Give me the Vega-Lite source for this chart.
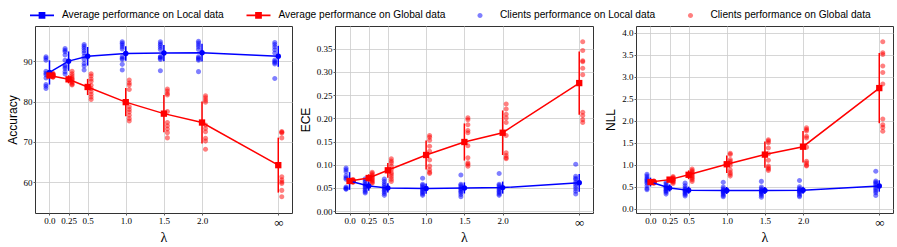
{
"$schema":"https://vega.github.io/schema/vega-lite/v6.json",
"background":"white",
"padding":{"left":5,"top":3,"right":2,"bottom":2},
"autosize":{"type":"pad"},
"bounds":"flush",
"spacing":43,
"datasets":{
"clients":[
{"m":"a","x":0,"s":"CL","v":91.1},{"m":"a","x":0,"s":"CL","v":90.7},{"m":"a","x":0,"s":"CL","v":90.2},{"m":"a","x":0,"s":"CL","v":87.5},{"m":"a","x":0,"s":"CL","v":87.0},{"m":"a","x":0,"s":"CL","v":86.6},{"m":"a","x":0,"s":"CL","v":85.8},{"m":"a","x":0,"s":"CL","v":84.2},{"m":"a","x":0,"s":"CL","v":83.8},{"m":"a","x":0,"s":"CL","v":83.2},
{"m":"a","x":0.25,"s":"CL","v":93.1},{"m":"a","x":0.25,"s":"CL","v":92.7},{"m":"a","x":0.25,"s":"CL","v":92.3},{"m":"a","x":0.25,"s":"CL","v":91.5},{"m":"a","x":0.25,"s":"CL","v":90.2},{"m":"a","x":0.25,"s":"CL","v":89.0},{"m":"a","x":0.25,"s":"CL","v":88.6},{"m":"a","x":0.25,"s":"CL","v":88.2},{"m":"a","x":0.25,"s":"CL","v":87.4},{"m":"a","x":0.25,"s":"CL","v":86.8},
{"m":"a","x":0.5,"s":"CL","v":94.1},{"m":"a","x":0.5,"s":"CL","v":93.7},{"m":"a","x":0.5,"s":"CL","v":93.2},{"m":"a","x":0.5,"s":"CL","v":92.6},{"m":"a","x":0.5,"s":"CL","v":92.0},{"m":"a","x":0.5,"s":"CL","v":91.2},{"m":"a","x":0.5,"s":"CL","v":90.4},{"m":"a","x":0.5,"s":"CL","v":89.4},{"m":"a","x":0.5,"s":"CL","v":88.8},{"m":"a","x":0.5,"s":"CL","v":87.8},
{"m":"a","x":1,"s":"CL","v":94.8},{"m":"a","x":1,"s":"CL","v":94.4},{"m":"a","x":1,"s":"CL","v":94.0},{"m":"a","x":1,"s":"CL","v":93.5},{"m":"a","x":1,"s":"CL","v":93.0},{"m":"a","x":1,"s":"CL","v":91.1},{"m":"a","x":1,"s":"CL","v":90.7},{"m":"a","x":1,"s":"CL","v":90.4},{"m":"a","x":1,"s":"CL","v":89.2},{"m":"a","x":1,"s":"CL","v":87.8},
{"m":"a","x":1.5,"s":"CL","v":94.8},{"m":"a","x":1.5,"s":"CL","v":94.3},{"m":"a","x":1.5,"s":"CL","v":93.9},{"m":"a","x":1.5,"s":"CL","v":93.4},{"m":"a","x":1.5,"s":"CL","v":92.9},{"m":"a","x":1.5,"s":"CL","v":91.0},{"m":"a","x":1.5,"s":"CL","v":91.1},{"m":"a","x":1.5,"s":"CL","v":90.7},{"m":"a","x":1.5,"s":"CL","v":90.4},{"m":"a","x":1.5,"s":"CL","v":87.6},
{"m":"a","x":2,"s":"CL","v":94.9},{"m":"a","x":2,"s":"CL","v":94.5},{"m":"a","x":2,"s":"CL","v":94.0},{"m":"a","x":2,"s":"CL","v":93.5},{"m":"a","x":2,"s":"CL","v":92.9},{"m":"a","x":2,"s":"CL","v":91.1},{"m":"a","x":2,"s":"CL","v":90.8},{"m":"a","x":2,"s":"CL","v":90.5},{"m":"a","x":2,"s":"CL","v":90.2},{"m":"a","x":2,"s":"CL","v":87.4},
{"m":"a","x":3,"s":"CL","v":94.6},{"m":"a","x":3,"s":"CL","v":94.1},{"m":"a","x":3,"s":"CL","v":93.5},{"m":"a","x":3,"s":"CL","v":92.8},{"m":"a","x":3,"s":"CL","v":92.0},{"m":"a","x":3,"s":"CL","v":90.3},{"m":"a","x":3,"s":"CL","v":89.9},{"m":"a","x":3,"s":"CL","v":89.6},{"m":"a","x":3,"s":"CL","v":89.3},{"m":"a","x":3,"s":"CL","v":85.7},
{"m":"a","x":0,"s":"CG","v":87.0},{"m":"a","x":0,"s":"CG","v":86.8},{"m":"a","x":0,"s":"CG","v":86.7},{"m":"a","x":0,"s":"CG","v":86.6},{"m":"a","x":0,"s":"CG","v":86.5},{"m":"a","x":0,"s":"CG","v":86.4},{"m":"a","x":0,"s":"CG","v":86.3},{"m":"a","x":0,"s":"CG","v":86.2},{"m":"a","x":0,"s":"CG","v":86.1},{"m":"a","x":0,"s":"CG","v":86.0},
{"m":"a","x":0.25,"s":"CG","v":87.5},{"m":"a","x":0.25,"s":"CG","v":86.9},{"m":"a","x":0.25,"s":"CG","v":86.4},{"m":"a","x":0.25,"s":"CG","v":85.9},{"m":"a","x":0.25,"s":"CG","v":85.6},{"m":"a","x":0.25,"s":"CG","v":85.3},{"m":"a","x":0.25,"s":"CG","v":84.9},{"m":"a","x":0.25,"s":"CG","v":84.6},{"m":"a","x":0.25,"s":"CG","v":84.3},{"m":"a","x":0.25,"s":"CG","v":84.1},
{"m":"a","x":0.5,"s":"CG","v":86.9},{"m":"a","x":0.5,"s":"CG","v":86.3},{"m":"a","x":0.5,"s":"CG","v":85.6},{"m":"a","x":0.5,"s":"CG","v":85.0},{"m":"a","x":0.5,"s":"CG","v":84.0},{"m":"a","x":0.5,"s":"CG","v":83.2},{"m":"a","x":0.5,"s":"CG","v":82.5},{"m":"a","x":0.5,"s":"CG","v":81.8},{"m":"a","x":0.5,"s":"CG","v":81.1},{"m":"a","x":0.5,"s":"CG","v":80.5},
{"m":"a","x":1,"s":"CG","v":85.3},{"m":"a","x":1,"s":"CG","v":84.6},{"m":"a","x":1,"s":"CG","v":84.1},{"m":"a","x":1,"s":"CG","v":83.0},{"m":"a","x":1,"s":"CG","v":78.7},{"m":"a","x":1,"s":"CG","v":78.0},{"m":"a","x":1,"s":"CG","v":77.4},{"m":"a","x":1,"s":"CG","v":76.6},{"m":"a","x":1,"s":"CG","v":75.8},{"m":"a","x":1,"s":"CG","v":75.2},
{"m":"a","x":1.5,"s":"CG","v":83.1},{"m":"a","x":1.5,"s":"CG","v":82.6},{"m":"a","x":1.5,"s":"CG","v":82.0},{"m":"a","x":1.5,"s":"CG","v":81.6},{"m":"a","x":1.5,"s":"CG","v":77.5},{"m":"a","x":1.5,"s":"CG","v":74.8},{"m":"a","x":1.5,"s":"CG","v":74.0},{"m":"a","x":1.5,"s":"CG","v":73.2},{"m":"a","x":1.5,"s":"CG","v":72.3},{"m":"a","x":1.5,"s":"CG","v":71.0},
{"m":"a","x":2,"s":"CG","v":81.4},{"m":"a","x":2,"s":"CG","v":80.9},{"m":"a","x":2,"s":"CG","v":80.3},{"m":"a","x":2,"s":"CG","v":79.8},{"m":"a","x":2,"s":"CG","v":74.2},{"m":"a","x":2,"s":"CG","v":73.3},{"m":"a","x":2,"s":"CG","v":72.5},{"m":"a","x":2,"s":"CG","v":70.9},{"m":"a","x":2,"s":"CG","v":70.2},{"m":"a","x":2,"s":"CG","v":68.2},
{"m":"a","x":3,"s":"CG","v":72.6},{"m":"a","x":3,"s":"CG","v":72.4},{"m":"a","x":3,"s":"CG","v":72.2},{"m":"a","x":3,"s":"CG","v":71.0},{"m":"a","x":3,"s":"CG","v":61.4},{"m":"a","x":3,"s":"CG","v":60.6},{"m":"a","x":3,"s":"CG","v":60.1},{"m":"a","x":3,"s":"CG","v":59.7},{"m":"a","x":3,"s":"CG","v":58.0},{"m":"a","x":3,"s":"CG","v":56.4},
{"m":"e","x":0,"s":"CL","v":0.093},{"m":"e","x":0,"s":"CL","v":0.089},{"m":"e","x":0,"s":"CL","v":0.085},{"m":"e","x":0,"s":"CL","v":0.076},{"m":"e","x":0,"s":"CL","v":0.072},{"m":"e","x":0,"s":"CL","v":0.069},{"m":"e","x":0,"s":"CL","v":0.052},{"m":"e","x":0,"s":"CL","v":0.050},{"m":"e","x":0,"s":"CL","v":0.048},{"m":"e","x":0,"s":"CL","v":0.047},
{"m":"e","x":0.25,"s":"CL","v":0.070},{"m":"e","x":0.25,"s":"CL","v":0.066},{"m":"e","x":0.25,"s":"CL","v":0.062},{"m":"e","x":0.25,"s":"CL","v":0.058},{"m":"e","x":0.25,"s":"CL","v":0.055},{"m":"e","x":0.25,"s":"CL","v":0.052},{"m":"e","x":0.25,"s":"CL","v":0.049},{"m":"e","x":0.25,"s":"CL","v":0.045},{"m":"e","x":0.25,"s":"CL","v":0.042},{"m":"e","x":0.25,"s":"CL","v":0.039},
{"m":"e","x":0.5,"s":"CL","v":0.069},{"m":"e","x":0.5,"s":"CL","v":0.064},{"m":"e","x":0.5,"s":"CL","v":0.059},{"m":"e","x":0.5,"s":"CL","v":0.055},{"m":"e","x":0.5,"s":"CL","v":0.051},{"m":"e","x":0.5,"s":"CL","v":0.048},{"m":"e","x":0.5,"s":"CL","v":0.045},{"m":"e","x":0.5,"s":"CL","v":0.042},{"m":"e","x":0.5,"s":"CL","v":0.038},{"m":"e","x":0.5,"s":"CL","v":0.034},
{"m":"e","x":1,"s":"CL","v":0.071},{"m":"e","x":1,"s":"CL","v":0.058},{"m":"e","x":1,"s":"CL","v":0.055},{"m":"e","x":1,"s":"CL","v":0.052},{"m":"e","x":1,"s":"CL","v":0.049},{"m":"e","x":1,"s":"CL","v":0.046},{"m":"e","x":1,"s":"CL","v":0.043},{"m":"e","x":1,"s":"CL","v":0.040},{"m":"e","x":1,"s":"CL","v":0.037},{"m":"e","x":1,"s":"CL","v":0.034},
{"m":"e","x":1.5,"s":"CL","v":0.078},{"m":"e","x":1.5,"s":"CL","v":0.058},{"m":"e","x":1.5,"s":"CL","v":0.055},{"m":"e","x":1.5,"s":"CL","v":0.052},{"m":"e","x":1.5,"s":"CL","v":0.049},{"m":"e","x":1.5,"s":"CL","v":0.046},{"m":"e","x":1.5,"s":"CL","v":0.043},{"m":"e","x":1.5,"s":"CL","v":0.040},{"m":"e","x":1.5,"s":"CL","v":0.036},{"m":"e","x":1.5,"s":"CL","v":0.031},
{"m":"e","x":2,"s":"CL","v":0.081},{"m":"e","x":2,"s":"CL","v":0.058},{"m":"e","x":2,"s":"CL","v":0.055},{"m":"e","x":2,"s":"CL","v":0.052},{"m":"e","x":2,"s":"CL","v":0.049},{"m":"e","x":2,"s":"CL","v":0.046},{"m":"e","x":2,"s":"CL","v":0.043},{"m":"e","x":2,"s":"CL","v":0.040},{"m":"e","x":2,"s":"CL","v":0.037},{"m":"e","x":2,"s":"CL","v":0.034},
{"m":"e","x":3,"s":"CL","v":0.101},{"m":"e","x":3,"s":"CL","v":0.075},{"m":"e","x":3,"s":"CL","v":0.071},{"m":"e","x":3,"s":"CL","v":0.068},{"m":"e","x":3,"s":"CL","v":0.062},{"m":"e","x":3,"s":"CL","v":0.058},{"m":"e","x":3,"s":"CL","v":0.053},{"m":"e","x":3,"s":"CL","v":0.048},{"m":"e","x":3,"s":"CL","v":0.043},{"m":"e","x":3,"s":"CL","v":0.037},
{"m":"e","x":0,"s":"CG","v":0.068},{"m":"e","x":0,"s":"CG","v":0.067},{"m":"e","x":0,"s":"CG","v":0.066},{"m":"e","x":0,"s":"CG","v":0.066},{"m":"e","x":0,"s":"CG","v":0.065},{"m":"e","x":0,"s":"CG","v":0.065},{"m":"e","x":0,"s":"CG","v":0.064},{"m":"e","x":0,"s":"CG","v":0.064},{"m":"e","x":0,"s":"CG","v":0.063},{"m":"e","x":0,"s":"CG","v":0.062},
{"m":"e","x":0.25,"s":"CG","v":0.084},{"m":"e","x":0.25,"s":"CG","v":0.081},{"m":"e","x":0.25,"s":"CG","v":0.078},{"m":"e","x":0.25,"s":"CG","v":0.075},{"m":"e","x":0.25,"s":"CG","v":0.072},{"m":"e","x":0.25,"s":"CG","v":0.070},{"m":"e","x":0.25,"s":"CG","v":0.067},{"m":"e","x":0.25,"s":"CG","v":0.065},{"m":"e","x":0.25,"s":"CG","v":0.062},{"m":"e","x":0.25,"s":"CG","v":0.060},
{"m":"e","x":0.5,"s":"CG","v":0.113},{"m":"e","x":0.5,"s":"CG","v":0.108},{"m":"e","x":0.5,"s":"CG","v":0.104},{"m":"e","x":0.5,"s":"CG","v":0.097},{"m":"e","x":0.5,"s":"CG","v":0.090},{"m":"e","x":0.5,"s":"CG","v":0.083},{"m":"e","x":0.5,"s":"CG","v":0.079},{"m":"e","x":0.5,"s":"CG","v":0.074},{"m":"e","x":0.5,"s":"CG","v":0.069},{"m":"e","x":0.5,"s":"CG","v":0.064},
{"m":"e","x":1,"s":"CG","v":0.163},{"m":"e","x":1,"s":"CG","v":0.159},{"m":"e","x":1,"s":"CG","v":0.153},{"m":"e","x":1,"s":"CG","v":0.140},{"m":"e","x":1,"s":"CG","v":0.129},{"m":"e","x":1,"s":"CG","v":0.110},{"m":"e","x":1,"s":"CG","v":0.097},{"m":"e","x":1,"s":"CG","v":0.089},{"m":"e","x":1,"s":"CG","v":0.084},{"m":"e","x":1,"s":"CG","v":0.081},
{"m":"e","x":1.5,"s":"CG","v":0.201},{"m":"e","x":1.5,"s":"CG","v":0.197},{"m":"e","x":1.5,"s":"CG","v":0.186},{"m":"e","x":1.5,"s":"CG","v":0.174},{"m":"e","x":1.5,"s":"CG","v":0.169},{"m":"e","x":1.5,"s":"CG","v":0.141},{"m":"e","x":1.5,"s":"CG","v":0.115},{"m":"e","x":1.5,"s":"CG","v":0.104},{"m":"e","x":1.5,"s":"CG","v":0.101},{"m":"e","x":1.5,"s":"CG","v":0.097},
{"m":"e","x":2,"s":"CG","v":0.231},{"m":"e","x":2,"s":"CG","v":0.220},{"m":"e","x":2,"s":"CG","v":0.209},{"m":"e","x":2,"s":"CG","v":0.201},{"m":"e","x":2,"s":"CG","v":0.191},{"m":"e","x":2,"s":"CG","v":0.163},{"m":"e","x":2,"s":"CG","v":0.126},{"m":"e","x":2,"s":"CG","v":0.120},{"m":"e","x":2,"s":"CG","v":0.115},{"m":"e","x":2,"s":"CG","v":0.113},
{"m":"e","x":3,"s":"CG","v":0.365},{"m":"e","x":3,"s":"CG","v":0.346},{"m":"e","x":3,"s":"CG","v":0.324},{"m":"e","x":3,"s":"CG","v":0.322},{"m":"e","x":3,"s":"CG","v":0.308},{"m":"e","x":3,"s":"CG","v":0.294},{"m":"e","x":3,"s":"CG","v":0.213},{"m":"e","x":3,"s":"CG","v":0.206},{"m":"e","x":3,"s":"CG","v":0.197},{"m":"e","x":3,"s":"CG","v":0.191},
{"m":"n","x":0,"s":"CL","v":0.78},{"m":"n","x":0,"s":"CL","v":0.74},{"m":"n","x":0,"s":"CL","v":0.70},{"m":"n","x":0,"s":"CL","v":0.67},{"m":"n","x":0,"s":"CL","v":0.64},{"m":"n","x":0,"s":"CL","v":0.61},{"m":"n","x":0,"s":"CL","v":0.58},{"m":"n","x":0,"s":"CL","v":0.52},{"m":"n","x":0,"s":"CL","v":0.46},{"m":"n","x":0,"s":"CL","v":0.43},
{"m":"n","x":0.25,"s":"CL","v":0.60},{"m":"n","x":0.25,"s":"CL","v":0.56},{"m":"n","x":0.25,"s":"CL","v":0.52},{"m":"n","x":0.25,"s":"CL","v":0.49},{"m":"n","x":0.25,"s":"CL","v":0.47},{"m":"n","x":0.25,"s":"CL","v":0.45},{"m":"n","x":0.25,"s":"CL","v":0.42},{"m":"n","x":0.25,"s":"CL","v":0.40},{"m":"n","x":0.25,"s":"CL","v":0.37},{"m":"n","x":0.25,"s":"CL","v":0.33},
{"m":"n","x":0.5,"s":"CL","v":0.58},{"m":"n","x":0.5,"s":"CL","v":0.52},{"m":"n","x":0.5,"s":"CL","v":0.47},{"m":"n","x":0.5,"s":"CL","v":0.44},{"m":"n","x":0.5,"s":"CL","v":0.42},{"m":"n","x":0.5,"s":"CL","v":0.40},{"m":"n","x":0.5,"s":"CL","v":0.38},{"m":"n","x":0.5,"s":"CL","v":0.35},{"m":"n","x":0.5,"s":"CL","v":0.32},{"m":"n","x":0.5,"s":"CL","v":0.29},
{"m":"n","x":1,"s":"CL","v":0.60},{"m":"n","x":1,"s":"CL","v":0.49},{"m":"n","x":1,"s":"CL","v":0.45},{"m":"n","x":1,"s":"CL","v":0.42},{"m":"n","x":1,"s":"CL","v":0.40},{"m":"n","x":1,"s":"CL","v":0.38},{"m":"n","x":1,"s":"CL","v":0.36},{"m":"n","x":1,"s":"CL","v":0.33},{"m":"n","x":1,"s":"CL","v":0.30},{"m":"n","x":1,"s":"CL","v":0.27},
{"m":"n","x":1.5,"s":"CL","v":0.62},{"m":"n","x":1.5,"s":"CL","v":0.49},{"m":"n","x":1.5,"s":"CL","v":0.45},{"m":"n","x":1.5,"s":"CL","v":0.42},{"m":"n","x":1.5,"s":"CL","v":0.40},{"m":"n","x":1.5,"s":"CL","v":0.38},{"m":"n","x":1.5,"s":"CL","v":0.36},{"m":"n","x":1.5,"s":"CL","v":0.33},{"m":"n","x":1.5,"s":"CL","v":0.30},{"m":"n","x":1.5,"s":"CL","v":0.26},
{"m":"n","x":2,"s":"CL","v":0.64},{"m":"n","x":2,"s":"CL","v":0.50},{"m":"n","x":2,"s":"CL","v":0.46},{"m":"n","x":2,"s":"CL","v":0.43},{"m":"n","x":2,"s":"CL","v":0.41},{"m":"n","x":2,"s":"CL","v":0.39},{"m":"n","x":2,"s":"CL","v":0.37},{"m":"n","x":2,"s":"CL","v":0.34},{"m":"n","x":2,"s":"CL","v":0.30},{"m":"n","x":2,"s":"CL","v":0.27},
{"m":"n","x":3,"s":"CL","v":0.85},{"m":"n","x":3,"s":"CL","v":0.63},{"m":"n","x":3,"s":"CL","v":0.60},{"m":"n","x":3,"s":"CL","v":0.57},{"m":"n","x":3,"s":"CL","v":0.53},{"m":"n","x":3,"s":"CL","v":0.48},{"m":"n","x":3,"s":"CL","v":0.44},{"m":"n","x":3,"s":"CL","v":0.40},{"m":"n","x":3,"s":"CL","v":0.36},{"m":"n","x":3,"s":"CL","v":0.30},
{"m":"n","x":0,"s":"CG","v":0.63},{"m":"n","x":0,"s":"CG","v":0.62},{"m":"n","x":0,"s":"CG","v":0.62},{"m":"n","x":0,"s":"CG","v":0.61},{"m":"n","x":0,"s":"CG","v":0.61},{"m":"n","x":0,"s":"CG","v":0.60},{"m":"n","x":0,"s":"CG","v":0.60},{"m":"n","x":0,"s":"CG","v":0.59},{"m":"n","x":0,"s":"CG","v":0.59},{"m":"n","x":0,"s":"CG","v":0.58},
{"m":"n","x":0.25,"s":"CG","v":0.73},{"m":"n","x":0.25,"s":"CG","v":0.71},{"m":"n","x":0.25,"s":"CG","v":0.69},{"m":"n","x":0.25,"s":"CG","v":0.67},{"m":"n","x":0.25,"s":"CG","v":0.66},{"m":"n","x":0.25,"s":"CG","v":0.65},{"m":"n","x":0.25,"s":"CG","v":0.64},{"m":"n","x":0.25,"s":"CG","v":0.62},{"m":"n","x":0.25,"s":"CG","v":0.60},{"m":"n","x":0.25,"s":"CG","v":0.57},
{"m":"n","x":0.5,"s":"CG","v":0.90},{"m":"n","x":0.5,"s":"CG","v":0.87},{"m":"n","x":0.5,"s":"CG","v":0.84},{"m":"n","x":0.5,"s":"CG","v":0.81},{"m":"n","x":0.5,"s":"CG","v":0.78},{"m":"n","x":0.5,"s":"CG","v":0.75},{"m":"n","x":0.5,"s":"CG","v":0.72},{"m":"n","x":0.5,"s":"CG","v":0.69},{"m":"n","x":0.5,"s":"CG","v":0.66},{"m":"n","x":0.5,"s":"CG","v":0.62},
{"m":"n","x":1,"s":"CG","v":1.26},{"m":"n","x":1,"s":"CG","v":1.23},{"m":"n","x":1,"s":"CG","v":1.12},{"m":"n","x":1,"s":"CG","v":1.08},{"m":"n","x":1,"s":"CG","v":1.04},{"m":"n","x":1,"s":"CG","v":0.98},{"m":"n","x":1,"s":"CG","v":0.88},{"m":"n","x":1,"s":"CG","v":0.82},{"m":"n","x":1,"s":"CG","v":0.78},{"m":"n","x":1,"s":"CG","v":0.74},
{"m":"n","x":1.5,"s":"CG","v":1.57},{"m":"n","x":1.5,"s":"CG","v":1.54},{"m":"n","x":1.5,"s":"CG","v":1.50},{"m":"n","x":1.5,"s":"CG","v":1.38},{"m":"n","x":1.5,"s":"CG","v":1.25},{"m":"n","x":1.5,"s":"CG","v":1.10},{"m":"n","x":1.5,"s":"CG","v":0.97},{"m":"n","x":1.5,"s":"CG","v":0.93},{"m":"n","x":1.5,"s":"CG","v":0.90},{"m":"n","x":1.5,"s":"CG","v":0.87},
{"m":"n","x":2,"s":"CG","v":1.84},{"m":"n","x":2,"s":"CG","v":1.80},{"m":"n","x":2,"s":"CG","v":1.77},{"m":"n","x":2,"s":"CG","v":1.65},{"m":"n","x":2,"s":"CG","v":1.61},{"m":"n","x":2,"s":"CG","v":1.40},{"m":"n","x":2,"s":"CG","v":1.08},{"m":"n","x":2,"s":"CG","v":1.04},{"m":"n","x":2,"s":"CG","v":0.99},{"m":"n","x":2,"s":"CG","v":0.97},
{"m":"n","x":3,"s":"CG","v":3.80},{"m":"n","x":3,"s":"CG","v":3.55},{"m":"n","x":3,"s":"CG","v":3.51},{"m":"n","x":3,"s":"CG","v":3.25},{"m":"n","x":3,"s":"CG","v":3.10},{"m":"n","x":3,"s":"CG","v":2.84},{"m":"n","x":3,"s":"CG","v":2.04},{"m":"n","x":3,"s":"CG","v":1.91},{"m":"n","x":3,"s":"CG","v":1.85},{"m":"n","x":3,"s":"CG","v":1.76}
],
"avg":[
{"m":"a","x":0,"s":"L","v":87.2,"lo":84.2,"hi":90.2},{"m":"a","x":0.25,"s":"L","v":90.0,"lo":87.6,"hi":92.4},{"m":"a","x":0.5,"s":"L","v":91.2,"lo":88.9,"hi":93.5},{"m":"a","x":1,"s":"L","v":91.9,"lo":90.1,"hi":93.7},{"m":"a","x":1.5,"s":"L","v":92.0,"lo":90.0,"hi":94.0},{"m":"a","x":2,"s":"L","v":92.1,"lo":89.9,"hi":94.3},{"m":"a","x":3,"s":"L","v":91.2,"lo":88.6,"hi":93.8},
{"m":"a","x":0,"s":"G","v":86.45,"lo":85.95,"hi":86.95},{"m":"a","x":0.25,"s":"G","v":85.5,"lo":84.5,"hi":86.5},{"m":"a","x":0.5,"s":"G","v":83.6,"lo":81.6,"hi":85.6},{"m":"a","x":1,"s":"G","v":79.85,"lo":76.35,"hi":83.35},{"m":"a","x":1.5,"s":"G","v":77.0,"lo":72.4,"hi":81.6},{"m":"a","x":2,"s":"G","v":74.8,"lo":69.6,"hi":80.0},{"m":"a","x":3,"s":"G","v":64.25,"lo":57.45,"hi":71.05},
{"m":"e","x":0,"s":"L","v":0.065,"lo":0.046,"hi":0.084},{"m":"e","x":0.25,"s":"L","v":0.054,"lo":0.044,"hi":0.064},{"m":"e","x":0.5,"s":"L","v":0.050,"lo":0.040,"hi":0.060},{"m":"e","x":1,"s":"L","v":0.0486,"lo":0.0376,"hi":0.0596},{"m":"e","x":1.5,"s":"L","v":0.050,"lo":0.038,"hi":0.062},{"m":"e","x":2,"s":"L","v":0.0507,"lo":0.0377,"hi":0.0637},{"m":"e","x":3,"s":"L","v":0.061,"lo":0.042,"hi":0.080},
{"m":"e","x":0,"s":"G","v":0.065,"lo":0.062,"hi":0.068},{"m":"e","x":0.25,"s":"G","v":0.0714,"lo":0.0634,"hi":0.0794},{"m":"e","x":0.5,"s":"G","v":0.088,"lo":0.072,"hi":0.104},{"m":"e","x":1,"s":"G","v":0.121,"lo":0.090,"hi":0.152},{"m":"e","x":1.5,"s":"G","v":0.149,"lo":0.109,"hi":0.189},{"m":"e","x":2,"s":"G","v":0.169,"lo":0.121,"hi":0.217},{"m":"e","x":3,"s":"G","v":0.276,"lo":0.208,"hi":0.344},
{"m":"n","x":0,"s":"L","v":0.605,"lo":0.505,"hi":0.705},{"m":"n","x":0.25,"s":"L","v":0.47,"lo":0.39,"hi":0.55},{"m":"n","x":0.5,"s":"L","v":0.42,"lo":0.34,"hi":0.50},{"m":"n","x":1,"s":"L","v":0.41,"lo":0.33,"hi":0.49},{"m":"n","x":1.5,"s":"L","v":0.415,"lo":0.335,"hi":0.495},{"m":"n","x":2,"s":"L","v":0.42,"lo":0.34,"hi":0.50},{"m":"n","x":3,"s":"L","v":0.515,"lo":0.385,"hi":0.645},
{"m":"n","x":0,"s":"G","v":0.605,"lo":0.575,"hi":0.635},{"m":"n","x":0.25,"s":"G","v":0.66,"lo":0.61,"hi":0.71},{"m":"n","x":0.5,"s":"G","v":0.77,"lo":0.67,"hi":0.87},{"m":"n","x":1,"s":"G","v":1.01,"lo":0.81,"hi":1.21},{"m":"n","x":1.5,"s":"G","v":1.23,"lo":0.93,"hi":1.53},{"m":"n","x":2,"s":"G","v":1.41,"lo":1.05,"hi":1.77},{"m":"n","x":3,"s":"G","v":2.745,"lo":1.945,"hi":3.545}
]
},
"hconcat":[
{"width":257,"height":187,
"encoding":{"x":{"field":"x","type":"quantitative","title":"λ","scale":{"domain":[-0.19,3.18],"nice":false,"zero":false},"axis":{"values":[0,0.25,0.5,1,1.5,2,3],"labelFontSize":{"condition":{"test":"datum.value==3","value":13},"value":9},"labelExpr":"datum.value==3?'∞':datum.value==0.25?'0.25':format(datum.value,'.1f')"}}},
"layer":[
{"data":{"name":"clients"},"transform":[{"filter":"datum.m=='a'&&datum.s=='CL'"}],"mark":{"type":"point","filled":true,"opacity":1,"size":576,"xOffset":-3.5},
"encoding":{"y":{"field":"v","type":"quantitative","title":"Accuracy","scale":{"domain":[52.4,98.7],"nice":false,"zero":false},"axis":{"values":[60,70,80,90]}},
"color":{"field":"s","type":"nominal","scale":{"domain":["AL","AG","CL","CG"],"range":["#0000ff","#ff0000","rgba(0,0,255,0.5)","rgba(255,0,0,0.5)"]},"legend":{"orient":"none","legendX":-5,"legendY":-23,"direction":"horizontal","title":null,"symbolSize":576,"labelLimit":400,"labelExpr":"datum.label=='AL'?'Average performance on Local data':datum.label=='AG'?'Average performance on Global data':datum.label=='CL'?'Clients performance on Local data':'Clients performance on Global data'"}},
"shape":{"field":"s","type":"nominal","scale":{"domain":["AL","AG","CL","CG"],"range":["M-1,-0.07H1V0.07H-1Z M-0.28,-0.28H0.28V0.28H-0.28Z","M-1,-0.07H1V0.07H-1Z M-0.28,-0.28H0.28V0.28H-0.28Z","M-0.21,0A0.21,0.21 0 1,0 0.21,0A0.21,0.21 0 1,0 -0.21,0Z","M-0.21,0A0.21,0.21 0 1,0 0.21,0A0.21,0.21 0 1,0 -0.21,0Z"]}}}},
{"data":{"name":"clients"},"transform":[{"filter":"datum.m=='a'&&datum.s=='CG'"}],"mark":{"type":"point","filled":true,"opacity":1,"size":576,"xOffset":3.5},
"encoding":{"y":{"field":"v","type":"quantitative","title":"Accuracy","scale":{"domain":[52.4,98.7],"nice":false,"zero":false},"axis":{"values":[60,70,80,90]}},
"color":{"field":"s","type":"nominal","scale":{"domain":["AL","AG","CL","CG"],"range":["#0000ff","#ff0000","rgba(0,0,255,0.5)","rgba(255,0,0,0.5)"]}},
"shape":{"field":"s","type":"nominal","scale":{"domain":["AL","AG","CL","CG"],"range":["M-1,-0.07H1V0.07H-1Z M-0.28,-0.28H0.28V0.28H-0.28Z","M-1,-0.07H1V0.07H-1Z M-0.28,-0.28H0.28V0.28H-0.28Z","M-0.21,0A0.21,0.21 0 1,0 0.21,0A0.21,0.21 0 1,0 -0.21,0Z","M-0.21,0A0.21,0.21 0 1,0 0.21,0A0.21,0.21 0 1,0 -0.21,0Z"]}}}},
{"data":{"name":"avg"},"transform":[{"filter":"datum.m=='a'&&datum.s=='L'"}],"mark":{"type":"rule","color":"#0000ff","strokeWidth":1.5},"encoding":{"y":{"field":"lo","type":"quantitative","title":"Accuracy","scale":{"domain":[52.4,98.7],"nice":false,"zero":false},"axis":{"values":[60,70,80,90]}},"y2":{"field":"hi"}}},
{"data":{"name":"avg"},"transform":[{"filter":"datum.m=='a'&&datum.s=='L'"}],"mark":{"type":"line","color":"#0000ff","strokeWidth":1.5},"encoding":{"y":{"field":"v","type":"quantitative","title":"Accuracy","scale":{"domain":[52.4,98.7],"nice":false,"zero":false},"axis":{"values":[60,70,80,90]}}}},
{"data":{"name":"avg"},"transform":[{"filter":"datum.m=='a'&&datum.s=='L'"}],"mark":{"type":"point","shape":"circle","filled":true,"opacity":1,"size":30,"color":"#0000ff"},"encoding":{"y":{"field":"v","type":"quantitative","title":"Accuracy","scale":{"domain":[52.4,98.7],"nice":false,"zero":false},"axis":{"values":[60,70,80,90]}}}},
{"data":{"name":"avg"},"transform":[{"filter":"datum.m=='a'&&datum.s=='G'"}],"mark":{"type":"rule","color":"#ff0000","strokeWidth":1.5},"encoding":{"y":{"field":"lo","type":"quantitative","title":"Accuracy","scale":{"domain":[52.4,98.7],"nice":false,"zero":false},"axis":{"values":[60,70,80,90]}},"y2":{"field":"hi"}}},
{"data":{"name":"avg"},"transform":[{"filter":"datum.m=='a'&&datum.s=='G'"}],"mark":{"type":"line","color":"#ff0000","strokeWidth":1.5},"encoding":{"y":{"field":"v","type":"quantitative","title":"Accuracy","scale":{"domain":[52.4,98.7],"nice":false,"zero":false},"axis":{"values":[60,70,80,90]}}}},
{"data":{"name":"avg"},"transform":[{"filter":"datum.m=='a'&&datum.s=='G'"}],"mark":{"type":"point","shape":"square","filled":true,"opacity":1,"size":40,"color":"#ff0000"},"encoding":{"y":{"field":"v","type":"quantitative","title":"Accuracy","scale":{"domain":[52.4,98.7],"nice":false,"zero":false},"axis":{"values":[60,70,80,90]}}}}
]},
{"width":258,"height":187,
"encoding":{"x":{"field":"x","type":"quantitative","title":"λ","scale":{"domain":[-0.19,3.18],"nice":false,"zero":false},"axis":{"values":[0,0.25,0.5,1,1.5,2,3],"labelFontSize":{"condition":{"test":"datum.value==3","value":13},"value":9},"labelExpr":"datum.value==3?'∞':datum.value==0.25?'0.25':format(datum.value,'.1f')"}}},
"layer":[
{"data":{"name":"clients"},"transform":[{"filter":"datum.m=='e'&&datum.s=='CL'"}],"mark":{"type":"point","filled":true,"opacity":1,"size":576,"xOffset":-3.5},
"encoding":{"y":{"field":"v","type":"quantitative","title":"ECE","scale":{"domain":[-0.004,0.399],"nice":false,"zero":false},"axis":{"values":[0,0.05,0.1,0.15,0.2,0.25,0.3,0.35],"format":".2f"}},
"color":{"field":"s","type":"nominal","scale":{"domain":["AL","AG","CL","CG"],"range":["#0000ff","#ff0000","rgba(0,0,255,0.5)","rgba(255,0,0,0.5)"]}},
"shape":{"field":"s","type":"nominal","scale":{"domain":["AL","AG","CL","CG"],"range":["M-1,-0.07H1V0.07H-1Z M-0.28,-0.28H0.28V0.28H-0.28Z","M-1,-0.07H1V0.07H-1Z M-0.28,-0.28H0.28V0.28H-0.28Z","M-0.21,0A0.21,0.21 0 1,0 0.21,0A0.21,0.21 0 1,0 -0.21,0Z","M-0.21,0A0.21,0.21 0 1,0 0.21,0A0.21,0.21 0 1,0 -0.21,0Z"]}}}},
{"data":{"name":"clients"},"transform":[{"filter":"datum.m=='e'&&datum.s=='CG'"}],"mark":{"type":"point","filled":true,"opacity":1,"size":576,"xOffset":3.5},
"encoding":{"y":{"field":"v","type":"quantitative","title":"ECE","scale":{"domain":[-0.004,0.399],"nice":false,"zero":false},"axis":{"values":[0,0.05,0.1,0.15,0.2,0.25,0.3,0.35],"format":".2f"}},
"color":{"field":"s","type":"nominal","scale":{"domain":["AL","AG","CL","CG"],"range":["#0000ff","#ff0000","rgba(0,0,255,0.5)","rgba(255,0,0,0.5)"]}},
"shape":{"field":"s","type":"nominal","scale":{"domain":["AL","AG","CL","CG"],"range":["M-1,-0.07H1V0.07H-1Z M-0.28,-0.28H0.28V0.28H-0.28Z","M-1,-0.07H1V0.07H-1Z M-0.28,-0.28H0.28V0.28H-0.28Z","M-0.21,0A0.21,0.21 0 1,0 0.21,0A0.21,0.21 0 1,0 -0.21,0Z","M-0.21,0A0.21,0.21 0 1,0 0.21,0A0.21,0.21 0 1,0 -0.21,0Z"]}}}},
{"data":{"name":"avg"},"transform":[{"filter":"datum.m=='e'&&datum.s=='L'"}],"mark":{"type":"rule","color":"#0000ff","strokeWidth":1.5},"encoding":{"y":{"field":"lo","type":"quantitative","title":"ECE","scale":{"domain":[-0.004,0.399],"nice":false,"zero":false},"axis":{"values":[0,0.05,0.1,0.15,0.2,0.25,0.3,0.35],"format":".2f"}},"y2":{"field":"hi"}}},
{"data":{"name":"avg"},"transform":[{"filter":"datum.m=='e'&&datum.s=='L'"}],"mark":{"type":"line","color":"#0000ff","strokeWidth":1.5},"encoding":{"y":{"field":"v","type":"quantitative","title":"ECE","scale":{"domain":[-0.004,0.399],"nice":false,"zero":false},"axis":{"values":[0,0.05,0.1,0.15,0.2,0.25,0.3,0.35],"format":".2f"}}}},
{"data":{"name":"avg"},"transform":[{"filter":"datum.m=='e'&&datum.s=='L'"}],"mark":{"type":"point","shape":"circle","filled":true,"opacity":1,"size":30,"color":"#0000ff"},"encoding":{"y":{"field":"v","type":"quantitative","title":"ECE","scale":{"domain":[-0.004,0.399],"nice":false,"zero":false},"axis":{"values":[0,0.05,0.1,0.15,0.2,0.25,0.3,0.35],"format":".2f"}}}},
{"data":{"name":"avg"},"transform":[{"filter":"datum.m=='e'&&datum.s=='G'"}],"mark":{"type":"rule","color":"#ff0000","strokeWidth":1.5},"encoding":{"y":{"field":"lo","type":"quantitative","title":"ECE","scale":{"domain":[-0.004,0.399],"nice":false,"zero":false},"axis":{"values":[0,0.05,0.1,0.15,0.2,0.25,0.3,0.35],"format":".2f"}},"y2":{"field":"hi"}}},
{"data":{"name":"avg"},"transform":[{"filter":"datum.m=='e'&&datum.s=='G'"}],"mark":{"type":"line","color":"#ff0000","strokeWidth":1.5},"encoding":{"y":{"field":"v","type":"quantitative","title":"ECE","scale":{"domain":[-0.004,0.399],"nice":false,"zero":false},"axis":{"values":[0,0.05,0.1,0.15,0.2,0.25,0.3,0.35],"format":".2f"}}}},
{"data":{"name":"avg"},"transform":[{"filter":"datum.m=='e'&&datum.s=='G'"}],"mark":{"type":"point","shape":"square","filled":true,"opacity":1,"size":40,"color":"#ff0000"},"encoding":{"y":{"field":"v","type":"quantitative","title":"ECE","scale":{"domain":[-0.004,0.399],"nice":false,"zero":false},"axis":{"values":[0,0.05,0.1,0.15,0.2,0.25,0.3,0.35],"format":".2f"}}}}
]},
{"width":257,"height":187,
"encoding":{"x":{"field":"x","type":"quantitative","title":"λ","scale":{"domain":[-0.19,3.18],"nice":false,"zero":false},"axis":{"values":[0,0.25,0.5,1,1.5,2,3],"labelFontSize":{"condition":{"test":"datum.value==3","value":13},"value":9},"labelExpr":"datum.value==3?'∞':datum.value==0.25?'0.25':format(datum.value,'.1f')"}}},
"layer":[
{"data":{"name":"clients"},"transform":[{"filter":"datum.m=='n'&&datum.s=='CL'"}],"mark":{"type":"point","filled":true,"opacity":1,"size":576,"xOffset":-3.5},
"encoding":{"y":{"field":"v","type":"quantitative","title":"NLL","scale":{"domain":[-0.1,4.159],"nice":false,"zero":false},"axis":{"values":[0,0.5,1,1.5,2,2.5,3,3.5,4],"format":".1f"}},
"color":{"field":"s","type":"nominal","scale":{"domain":["AL","AG","CL","CG"],"range":["#0000ff","#ff0000","rgba(0,0,255,0.5)","rgba(255,0,0,0.5)"]}},
"shape":{"field":"s","type":"nominal","scale":{"domain":["AL","AG","CL","CG"],"range":["M-1,-0.07H1V0.07H-1Z M-0.28,-0.28H0.28V0.28H-0.28Z","M-1,-0.07H1V0.07H-1Z M-0.28,-0.28H0.28V0.28H-0.28Z","M-0.21,0A0.21,0.21 0 1,0 0.21,0A0.21,0.21 0 1,0 -0.21,0Z","M-0.21,0A0.21,0.21 0 1,0 0.21,0A0.21,0.21 0 1,0 -0.21,0Z"]}}}},
{"data":{"name":"clients"},"transform":[{"filter":"datum.m=='n'&&datum.s=='CG'"}],"mark":{"type":"point","filled":true,"opacity":1,"size":576,"xOffset":3.5},
"encoding":{"y":{"field":"v","type":"quantitative","title":"NLL","scale":{"domain":[-0.1,4.159],"nice":false,"zero":false},"axis":{"values":[0,0.5,1,1.5,2,2.5,3,3.5,4],"format":".1f"}},
"color":{"field":"s","type":"nominal","scale":{"domain":["AL","AG","CL","CG"],"range":["#0000ff","#ff0000","rgba(0,0,255,0.5)","rgba(255,0,0,0.5)"]}},
"shape":{"field":"s","type":"nominal","scale":{"domain":["AL","AG","CL","CG"],"range":["M-1,-0.07H1V0.07H-1Z M-0.28,-0.28H0.28V0.28H-0.28Z","M-1,-0.07H1V0.07H-1Z M-0.28,-0.28H0.28V0.28H-0.28Z","M-0.21,0A0.21,0.21 0 1,0 0.21,0A0.21,0.21 0 1,0 -0.21,0Z","M-0.21,0A0.21,0.21 0 1,0 0.21,0A0.21,0.21 0 1,0 -0.21,0Z"]}}}},
{"data":{"name":"avg"},"transform":[{"filter":"datum.m=='n'&&datum.s=='L'"}],"mark":{"type":"rule","color":"#0000ff","strokeWidth":1.5},"encoding":{"y":{"field":"lo","type":"quantitative","title":"NLL","scale":{"domain":[-0.1,4.159],"nice":false,"zero":false},"axis":{"values":[0,0.5,1,1.5,2,2.5,3,3.5,4],"format":".1f"}},"y2":{"field":"hi"}}},
{"data":{"name":"avg"},"transform":[{"filter":"datum.m=='n'&&datum.s=='L'"}],"mark":{"type":"line","color":"#0000ff","strokeWidth":1.5},"encoding":{"y":{"field":"v","type":"quantitative","title":"NLL","scale":{"domain":[-0.1,4.159],"nice":false,"zero":false},"axis":{"values":[0,0.5,1,1.5,2,2.5,3,3.5,4],"format":".1f"}}}},
{"data":{"name":"avg"},"transform":[{"filter":"datum.m=='n'&&datum.s=='L'"}],"mark":{"type":"point","shape":"circle","filled":true,"opacity":1,"size":30,"color":"#0000ff"},"encoding":{"y":{"field":"v","type":"quantitative","title":"NLL","scale":{"domain":[-0.1,4.159],"nice":false,"zero":false},"axis":{"values":[0,0.5,1,1.5,2,2.5,3,3.5,4],"format":".1f"}}}},
{"data":{"name":"avg"},"transform":[{"filter":"datum.m=='n'&&datum.s=='G'"}],"mark":{"type":"rule","color":"#ff0000","strokeWidth":1.5},"encoding":{"y":{"field":"lo","type":"quantitative","title":"NLL","scale":{"domain":[-0.1,4.159],"nice":false,"zero":false},"axis":{"values":[0,0.5,1,1.5,2,2.5,3,3.5,4],"format":".1f"}},"y2":{"field":"hi"}}},
{"data":{"name":"avg"},"transform":[{"filter":"datum.m=='n'&&datum.s=='G'"}],"mark":{"type":"line","color":"#ff0000","strokeWidth":1.5},"encoding":{"y":{"field":"v","type":"quantitative","title":"NLL","scale":{"domain":[-0.1,4.159],"nice":false,"zero":false},"axis":{"values":[0,0.5,1,1.5,2,2.5,3,3.5,4],"format":".1f"}}}},
{"data":{"name":"avg"},"transform":[{"filter":"datum.m=='n'&&datum.s=='G'"}],"mark":{"type":"point","shape":"square","filled":true,"opacity":1,"size":40,"color":"#ff0000"},"encoding":{"y":{"field":"v","type":"quantitative","title":"NLL","scale":{"domain":[-0.1,4.159],"nice":false,"zero":false},"axis":{"values":[0,0.5,1,1.5,2,2.5,3,3.5,4],"format":".1f"}}}}
]}
],
"config":{
"view":{"stroke":"#333333","strokeWidth":1},
"axis":{"labelFont":"Liberation Serif","labelFontSize":9,"labelColor":"#000000","titleColor":"#000000","titleFontWeight":"normal","tickColor":"#333333","tickSize":2,"tickWidth":0.8,"domain":false,"grid":true,"gridColor":"#cccccc","gridWidth":0.8,"labelPadding":1,"labelOverlap":false},
"axisY":{"titleFont":"Liberation Sans","titleFontSize":12,"titlePadding":4},
"axisX":{"titleFont":"Liberation Serif","titleFontSize":14,"titlePadding":1,"labelFlush":false},
"legend":{"labelFont":"Liberation Sans","labelFontSize":10.2,"labelColor":"#000000","labelOffset":8,"columnPadding":22.5,"symbolStrokeWidth":0,"symbolSize":576,"labelLimit":400}
}
}
